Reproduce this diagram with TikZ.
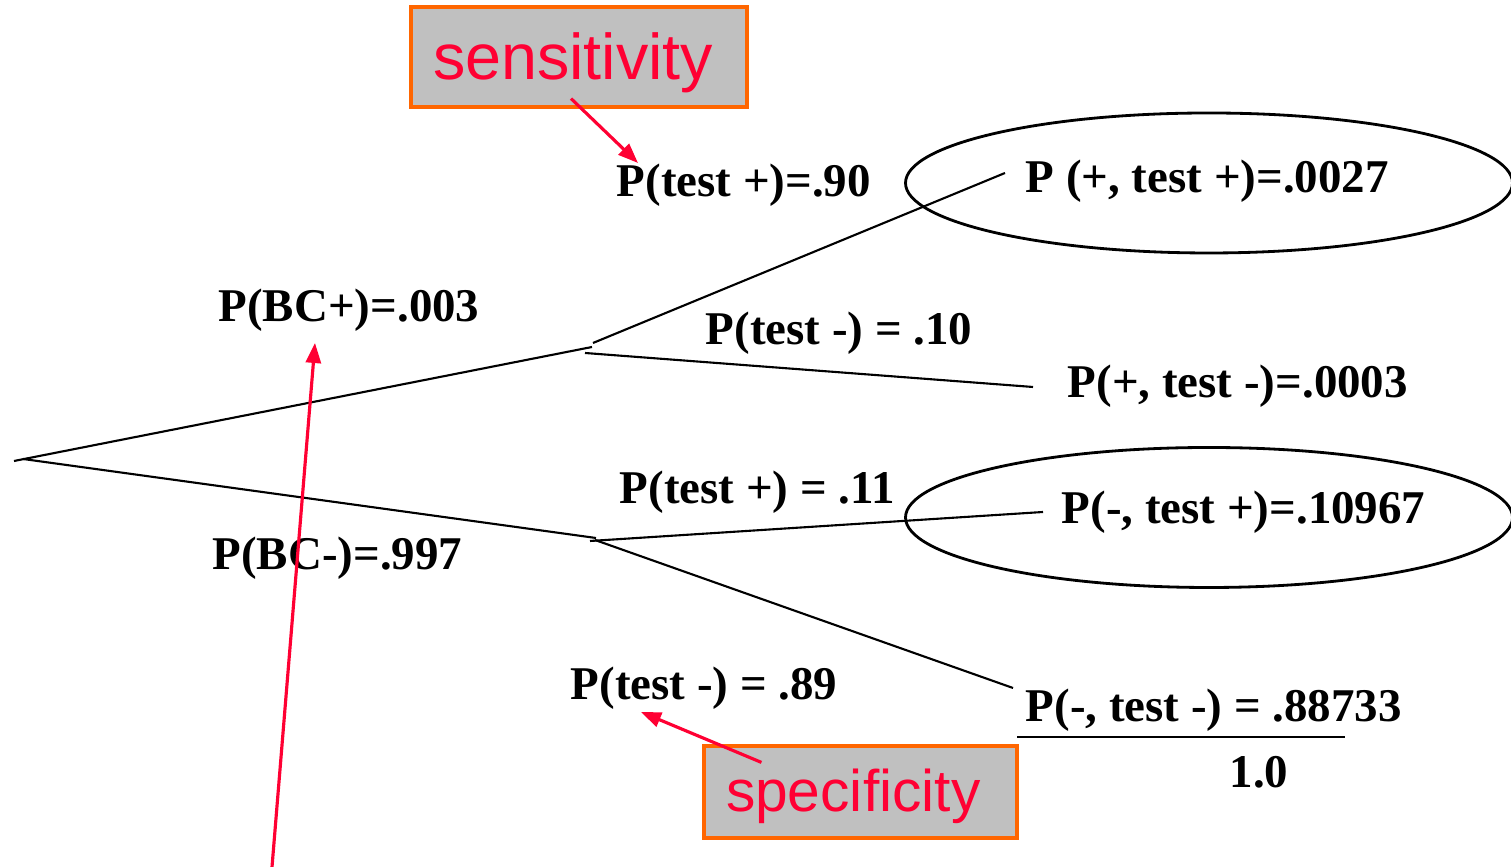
\documentclass[tikz,border=0pt]{standalone}
\usepackage{fontspec}
\setmainfont{Liberation Serif}
\newfontfamily\notefont{Liberation Sans}
\usetikzlibrary{shapes.geometric, arrows.meta, positioning}
\definecolor{notered}{RGB}{255,0,51}
\definecolor{noteorange}{RGB}{255,102,0}
\definecolor{notegray}{RGB}{192,192,192}

\begin{document}
\begin{tikzpicture}[
            font=\fontsize{13.35}{15}\selectfont\bfseries,
            prob/.style={inner sep=0pt, anchor=base west},
            note/.style={rectangle, draw=noteorange, line width=0.9pt, fill=notegray, text=notered, align=left, inner xsep=0.22cm, inner ysep=0pt},
            ring/.style={ellipse, draw, line width=0.8pt, inner sep=0pt, minimum width=6.07cm, minimum height=1.40cm},
            branch/.style={line width=0.6pt},
            arr/.style={-{Triangle[length=0.2cm, width=0.15cm]}, line width=0.9pt, notered}
        ]
            \useasboundingbox (0,0) rectangle (15.11,8.67);
            % tree points
            \coordinate (root) at (0.14,4.06);
            \coordinate (up) at (5.92,5.20);
            \coordinate (dn) at (5.96,3.29);
            % probability labels
            \node[prob] (bcplus) at (2.18,5.45) {P(BC+)=.003};
            \node[prob] (bcminus) at (2.12,2.97) {P(BC-)=.997};
            \node[prob] (sens90) at (6.16,6.70) {P(test +)=.90};
            \node[prob] (neg10) at (7.05,5.22) {P(test -) = .10};
            \node[prob] (pos11) at (6.19,3.63) {P(test +) = .11};
            \node[prob] (spec89) at (5.70,1.67) {P(test -) = .89};
            \node[prob] (pp) at (10.25,6.74) {P (+, test +)=.0027};
            \node[prob] (pm) at (10.67,4.69) {P(+, test -)=.0003};
            \node[prob] (mp) at (10.61,3.43) {P(-, test +)=.10967};
            \node[prob] (mm) at (10.25,1.45) {P(-, test -) = .88733};
            \node[prob] (total) at (12.29,0.79) {1.0};
            % branches
            \draw[branch] (root) -- (up);
            \draw[branch] ([shift={(0.09,0.02)}]root) -- (dn);
            \draw[branch] ([shift={(0.01,0.04)}]up) -- ([shift={(-0.20,0.20)}]pp.base west);
            \draw[branch] ([shift={(-0.07,-0.06)}]up) -- ([shift={(-0.34,0.11)}]pm.base west);
            \draw[branch] ([shift={(-0.06,-0.03)}]dn) -- ([shift={(-0.18,0.12)}]mp.base west);
            \draw[branch] ([shift={(-0.01,-0.02)}]dn) -- ([shift={(-0.12,0.34)}]mm.base west);
            \draw[branch] ([shift={(-0.08,-0.15)}]mm.base west) -- ++(3.28,0);
            % circled outcomes
            \node[ring] (ring1) at (12.09,6.84) {};
            \node[ring] (ring2) at (12.09,3.495) {};
            % notes
            \node[note, text width=2.92cm, text height=0.73cm, text depth=0.27cm, font=\notefont\fontsize{18.4}{20}\selectfont] (sens) at (5.79,8.10) {sensitivity};
            \node[note, text width=2.69cm, text height=0.66cm, text depth=0.26cm, font=\notefont\fontsize{16.7}{19}\selectfont] (spec) at (8.605,0.75) {specificity};
            \coordinate (src) at (2.72,0);
            \draw[arr] ([shift={(-0.08,0.10)}]sens.south) -- ([shift={(0.22,0.34)}]sens90.base west);
            \draw[arr] (src) -- ([shift={(0.97,-0.21)}]bcplus.base west);
            \draw[arr] ([shift={(0.59,-0.18)}]spec.north west) -- ([shift={(0.71,-0.12)}]spec89.base west);
        \end{tikzpicture}
\end{document}
